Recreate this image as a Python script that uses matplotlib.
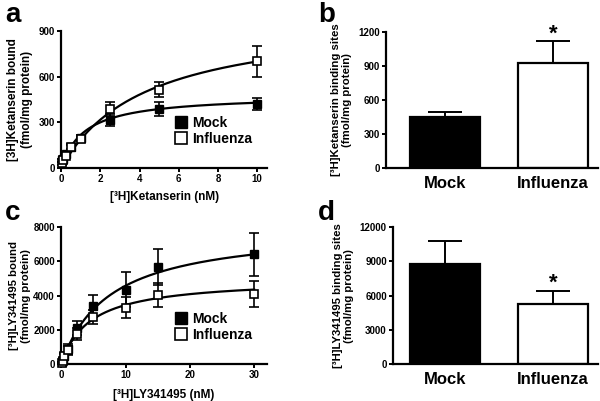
import matplotlib
matplotlib.use('Agg')
import matplotlib.pyplot as plt
import numpy as np

plt.rcParams['font.family'] = ['Liberation Sans', 'DejaVu Sans']
plt.rcParams['font.weight'] = 'bold'

# panel a: ketanserin saturation
ket_x = [0.05, 0.1, 0.25, 0.5, 1, 2.5, 5, 10]
ket_mock = [50, 60, 90, 140, 200, 315, 385, 420]
ket_mock_err = [10, 10, 15, 15, 15, 40, 45, 40]
ket_flu = [30, 50, 80, 135, 190, 385, 515, 700]
ket_flu_err = [10, 10, 15, 15, 15, 45, 50, 100]
ket_fit = {'mock': (480, 1.2), 'flu': (1000, 4.3)}  # Bmax, Kd of fitted curve

# panel b
groups = ['Mock', 'Influenza']
ket_bmax = [450, 920]
ket_bmax_err = [45, 200]

# panel c: LY341495 saturation
ly_x = [0.1, 0.25, 0.5, 1, 2.5, 5, 10, 15, 30]
ly_mock = [100, 250, 500, 900, 2100, 3400, 4350, 5650, 6400]
ly_mock_err = [50, 100, 150, 300, 400, 650, 1000, 1050, 1250]
ly_flu = [80, 200, 450, 800, 1750, 2750, 3300, 4050, 4100]
ly_flu_err = [40, 80, 120, 250, 350, 400, 600, 700, 750]
ly_fit = {'mock': (8000, 7.5), 'flu': (5000, 4.5)}

# panel d
ly_bmax = [8750, 5250]
ly_bmax_err = [2050, 1150]

fig = plt.figure(figsize=(6, 4.01), dpi=100)

def style(ax):
    for s in ['top', 'right']:
        ax.spines[s].set_visible(False)
    for s in ['left', 'bottom']:
        ax.spines[s].set_linewidth(1.6)
    ax.tick_params(width=1.4, length=3, labelsize=7, pad=1.5)
    for lab in ax.get_xticklabels() + ax.get_yticklabels():
        lab.set_fontweight('bold')

def sat_panel(ax, x, m, me, f, fe, fit, xmax):
    for key in ['mock', 'flu']:
        bmax, kd = fit[key]
        xx = np.linspace(0, max(x), 200)
        ax.plot(xx, bmax * xx / (kd + xx), color='black', lw=1.6, zorder=2)
    ax.errorbar(x, m, yerr=me, fmt='s', color='black', mfc='black', mec='black',
                ms=5.5, capsize=3.5, elinewidth=1.2, capthick=1.2, label='Mock',
                zorder=3, clip_on=False)
    ax.errorbar(x, f, yerr=fe, fmt='s', color='black', mfc='white', mec='black',
                ms=5.5, mew=1.2, capsize=3.5, elinewidth=1.2, capthick=1.2,
                label='Influenza', zorder=4, clip_on=False)
    ax.set_xlim(0, xmax)
    handles, labels = ax.get_legend_handles_labels()
    handles = [h[0] for h in handles]
    ax.legend(handles, labels, loc='lower right', bbox_to_anchor=(0.96, 0.11),
              frameon=False, prop={'size': 10, 'weight': 'bold'},
              handletextpad=0.3, labelspacing=0.15, handlelength=1.0,
              markerscale=1.6, borderpad=0)

def bar_panel(ax, vals, errs, ymax, yticks, star_y, xlim):
    pos = np.arange(len(groups))
    ax.bar(pos, vals, width=0.65, color=['black', 'white'], edgecolor='black',
           linewidth=1.6, zorder=2)
    for p, v, e in zip(pos, vals, errs):
        ax.errorbar([p], [v], yerr=[[0], [e]], fmt='none', ecolor='black',
                    elinewidth=1.4, capsize=12, capthick=1.4, zorder=1)
    ax.set_xticks(pos)
    ax.set_xticklabels(groups)
    ax.set_ylim(0, ymax)
    ax.set_yticks(yticks)
    ax.set_xlim(*xlim)
    ax.text(1, star_y, '*', ha='center', va='center', fontsize=16,
            fontweight='bold', clip_on=False)

# a
ax = fig.add_axes([0.102, 0.581, 0.343, 0.342])
sat_panel(ax, ket_x, ket_mock, ket_mock_err, ket_flu, ket_flu_err, ket_fit, 10.5)
ax.set_ylim(0, 900)
ax.set_yticks([0, 300, 600, 900])
ax.set_xticks([0, 2, 4, 6, 8, 10])
ax.set_xlabel('[³H]Ketanserin (nM)', fontsize=8.5, fontweight='bold', labelpad=5)
ax.set_ylabel('[3H]Ketanserin bound\n(fmol/mg protein)', fontsize=8.5,
              fontweight='bold', labelpad=4)
style(ax)

# b
ax = fig.add_axes([0.643, 0.581, 0.354, 0.340])
bar_panel(ax, ket_bmax, ket_bmax_err, 1200, [0, 300, 600, 900, 1200], 1175, (-0.55, 1.42))
ax.set_ylabel('[³H]Ketanserin binding sites\n(fmol/mg protein)', fontsize=8.2,
              fontweight='bold', labelpad=4)
style(ax)
ax.tick_params(axis='x', length=0, labelsize=12, pad=6)

# c
ax = fig.add_axes([0.102, 0.092, 0.343, 0.342])
sat_panel(ax, ly_x, ly_mock, ly_mock_err, ly_flu, ly_flu_err, ly_fit, 32)
ax.set_ylim(0, 8000)
ax.set_yticks([0, 2000, 4000, 6000, 8000])
ax.set_xticks([0, 10, 20, 30])
ax.set_xlabel('[³H]LY341495 (nM)', fontsize=8.5, fontweight='bold', labelpad=6)
ax.set_ylabel('[³H]LY341495 bound\n(fmol/mg protein)', fontsize=8.2,
              fontweight='bold', labelpad=2)
style(ax)

# d
ax = fig.add_axes([0.655, 0.092, 0.342, 0.342])
bar_panel(ax, ly_bmax, ly_bmax_err, 12000, [0, 3000, 6000, 9000, 12000], 7050, (-0.48, 1.42))
ax.set_ylabel('[³H]LY341495 binding sites\n(fmol/mg protein)', fontsize=8.2,
              fontweight='bold', labelpad=4)
style(ax)
ax.tick_params(axis='x', length=0, labelsize=12, pad=6)

for lab, x, y in [('a', 0.008, 0.962), ('b', 0.53, 0.962), ('c', 0.008, 0.47), ('d', 0.53, 0.47)]:
    fig.text(x, y, lab, fontsize=20, fontweight='bold', va='center', ha='left')

fig.savefig('out.png', dpi=100)
